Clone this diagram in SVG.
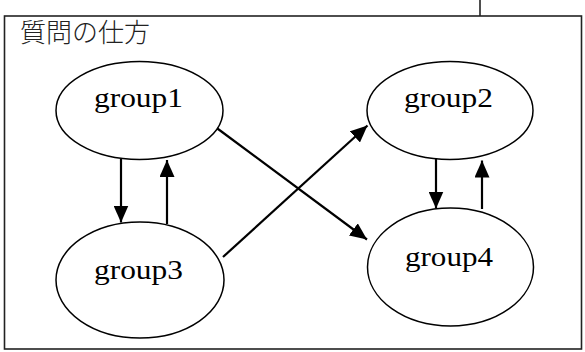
<svg xmlns="http://www.w3.org/2000/svg" width="585" height="352" viewBox="0 0 585 352">
  <style>
    .frame { fill: #fff; stroke: #222; stroke-width: 1.6; }
    .node ellipse { fill: #fff; stroke: #000; stroke-width: 1.5; }
    .node text { font-family: "Liberation Serif", "DejaVu Serif", serif; font-size: 28px; fill: #000; }
    .title { font-family: "Noto Sans CJK JP", "Noto Sans CJK SC", sans-serif; font-size: 26px; font-weight: 300; fill: #222; }
    .edge { stroke: #000; stroke-width: 2.2; fill: none; marker-end: url(#arrow); }
  </style>
  <defs>
    <marker id="arrow" markerUnits="userSpaceOnUse" markerWidth="17" markerHeight="15" refX="17" refY="7.5" orient="auto">
      <path d="M0,0 L17,7.5 L0,15 z" fill="#000"/>
    </marker>
  </defs>
  <rect width="585" height="352" fill="#fff"/>
  <g id="frame">
    <rect class="frame" x="4.5" y="16" width="577" height="333"/>
    <line x1="480" y1="0" x2="480" y2="16" stroke="#222" stroke-width="1.6"/>
    <text class="title" x="20" y="41.5">質問の仕方</text>
  </g>
  <g id="connectors">
    <line class="edge" x1="121" y1="159" x2="121" y2="222.5"/>
    <line class="edge" x1="167" y1="224" x2="167" y2="160"/>
    <line class="edge" x1="214" y1="126" x2="367" y2="239.5"/>
    <line class="edge" x1="223" y1="257" x2="367.5" y2="125.5"/>
    <line class="edge" x1="436" y1="159" x2="436" y2="208.5"/>
    <line class="edge" x1="482" y1="209" x2="482" y2="160.5"/>
  </g>
  <g id="group1" class="node">
    <ellipse cx="139.5" cy="110.5" rx="83.5" ry="49"/>
    <text x="94" y="107" textLength="89" lengthAdjust="spacingAndGlyphs">group1</text>
  </g>
  <g id="group2" class="node">
    <ellipse cx="450" cy="110.5" rx="83" ry="49"/>
    <text x="404" y="107" textLength="89" lengthAdjust="spacingAndGlyphs">group2</text>
  </g>
  <g id="group3" class="node">
    <ellipse cx="140" cy="280" rx="84" ry="58"/>
    <text x="94" y="279" textLength="89" lengthAdjust="spacingAndGlyphs">group3</text>
  </g>
  <g id="group4" class="node">
    <ellipse cx="450.5" cy="267" rx="83" ry="59"/>
    <text x="405" y="266" textLength="88" lengthAdjust="spacingAndGlyphs">group4</text>
  </g>
</svg>
